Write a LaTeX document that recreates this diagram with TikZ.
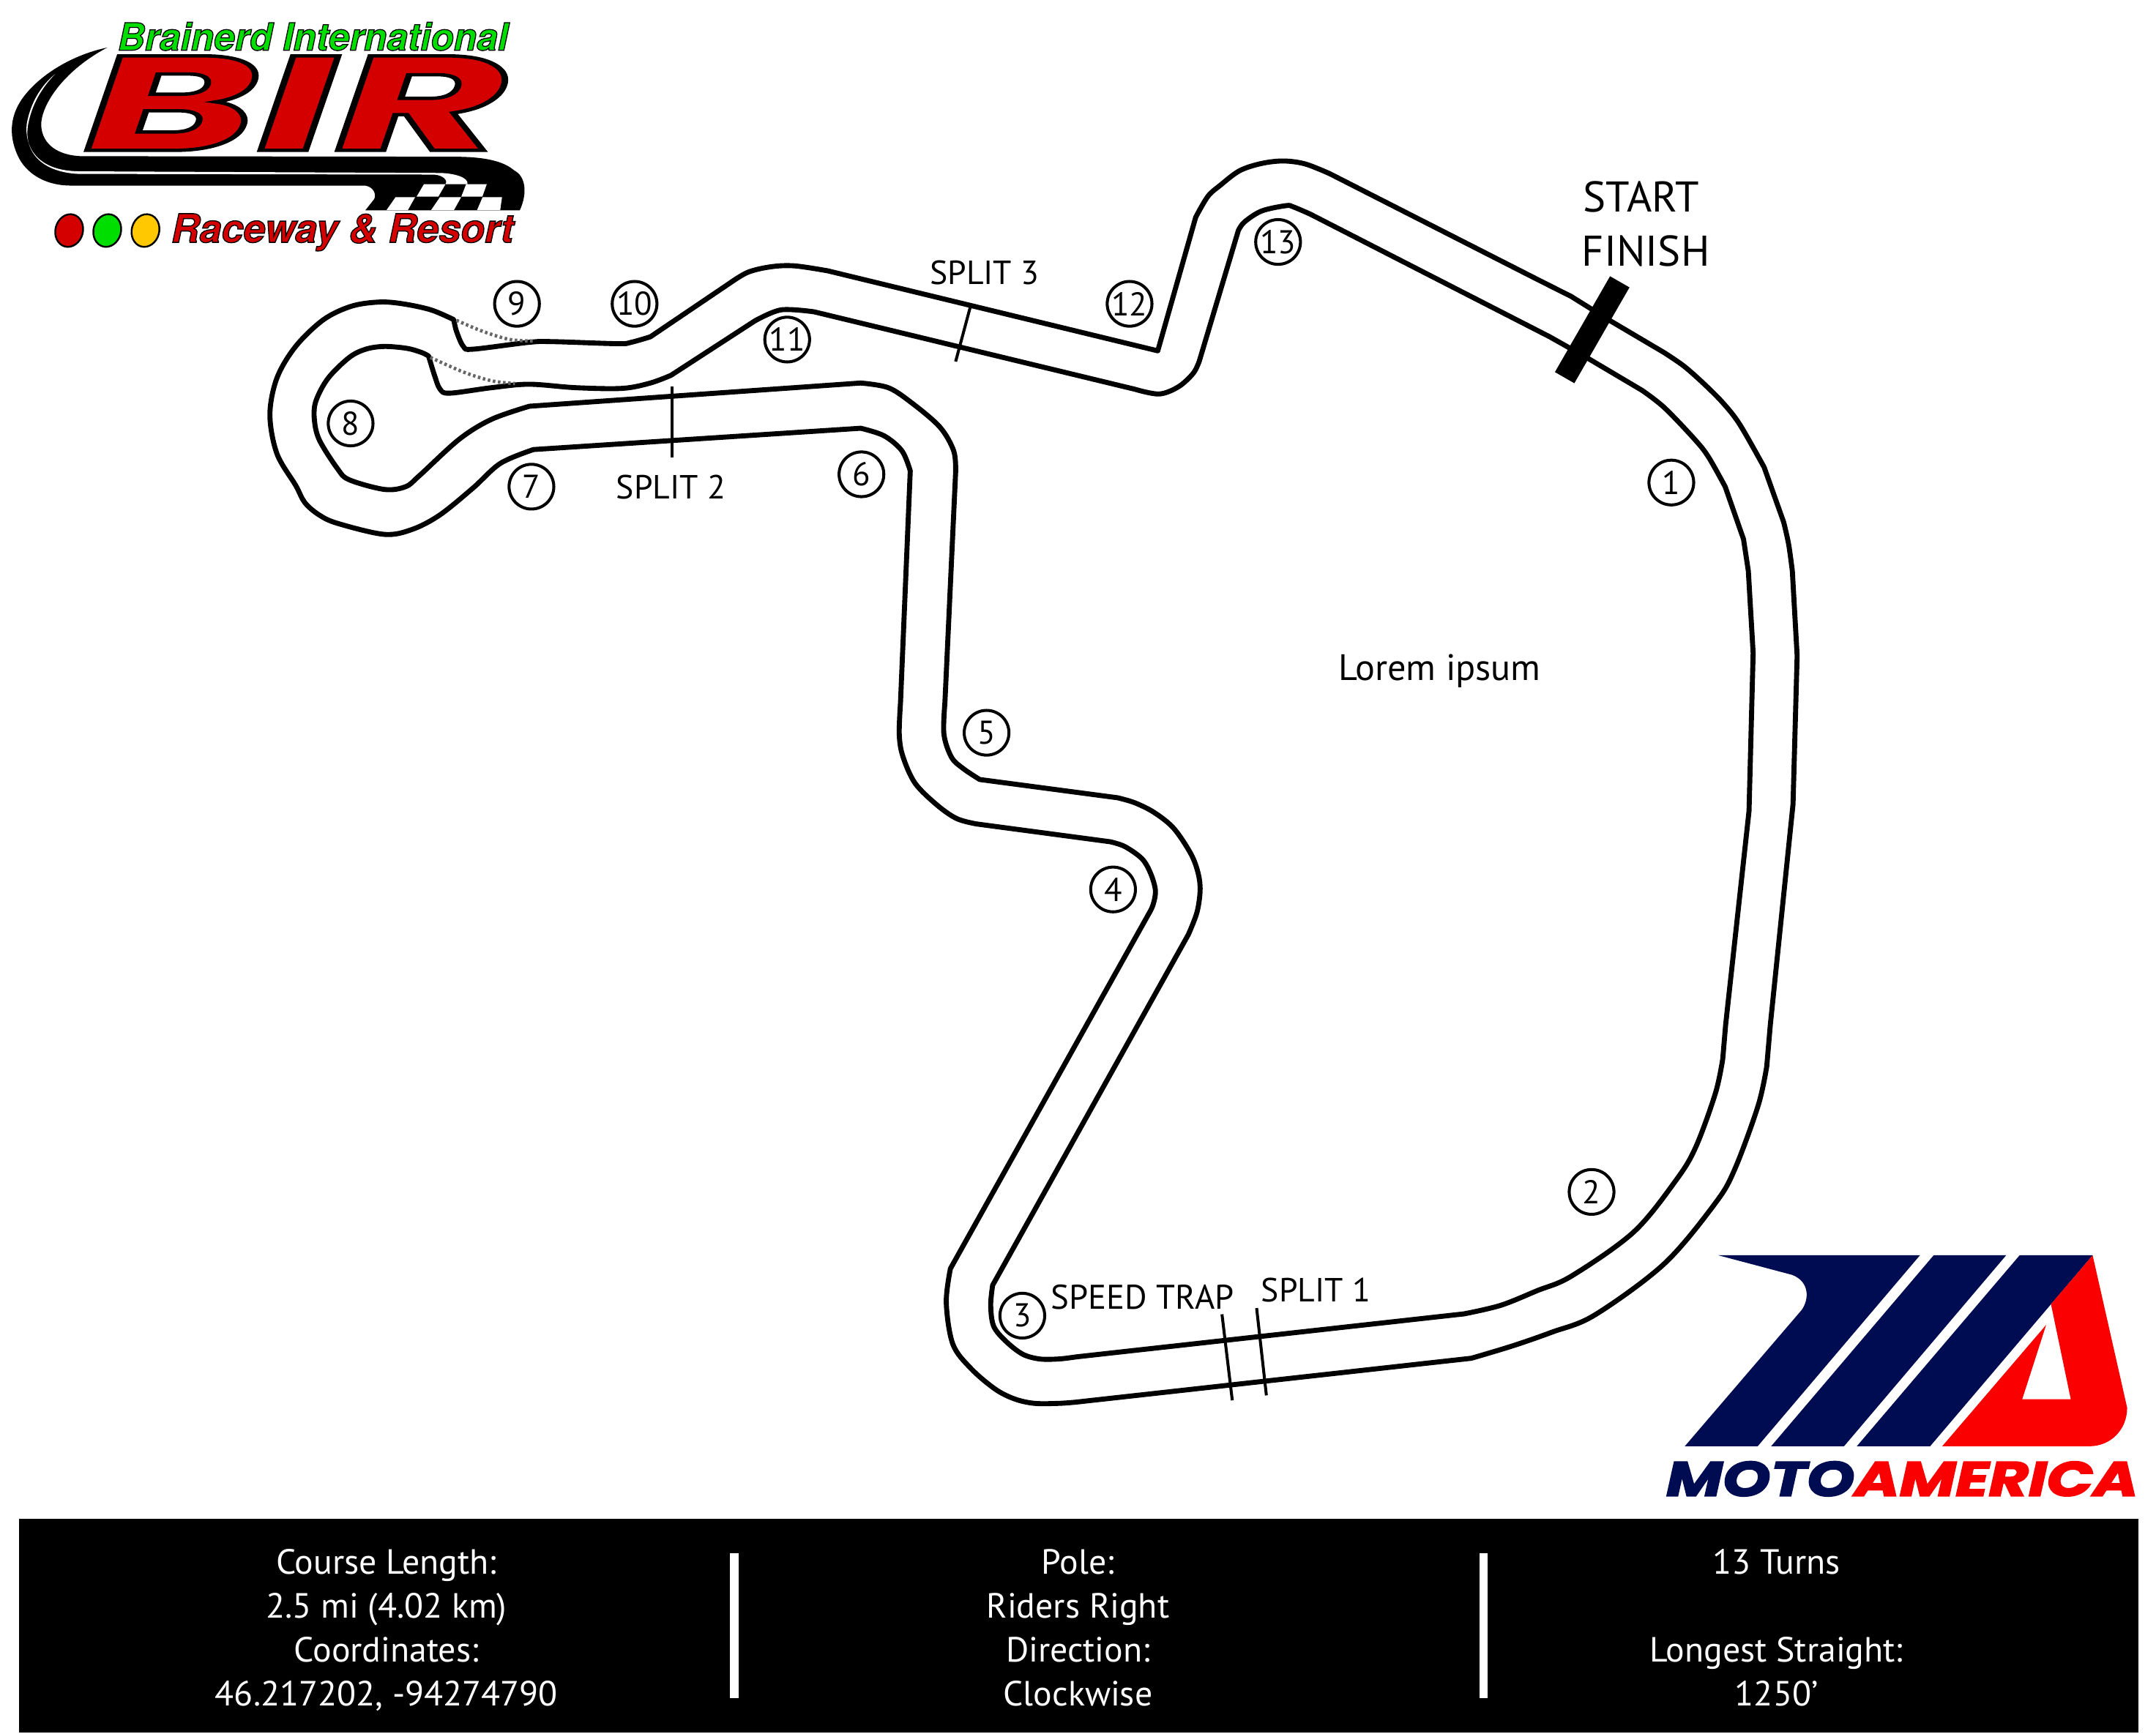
\documentclass[tikz,border=0pt]{standalone}
\usepackage{fontspec}
\usepackage{graphicx}
\setmainfont{PT Sans}
\newfontfamily\logofont[BoldItalicFeatures={FakeBold=2.5}]{TeX Gyre Heros}
\newfontfamily\heavyfont[BoldItalicFeatures={FakeBold=2.5}]{Poppins}
\newcommand{\outlined}[2]{\textcolor{#1}{\special{pdf:code 0 0 0 RG}#2}}
\definecolor{navy}{HTML}{000C52}
\definecolor{mared}{HTML}{FB0000}
\definecolor{birred}{HTML}{D40000}
\definecolor{birgreen}{HTML}{00DE00}
\definecolor{biryellow}{HTML}{FFC800}
\tikzset{
  track/.style={line width=1.95pt,line join=round,black},
  curve/.style={smooth,tension=.55},
  turn/.style={circle,draw=black,line width=1.15pt,minimum size=17.4pt,inner sep=0pt,font=\fontsize{12.8}{14}\selectfont},
  label/.style={inner sep=0pt,anchor=base,font=\fontsize{13}{15}\selectfont},
  biglabel/.style={inner sep=0pt,anchor=base,font=\fontsize{16.7}{19}\selectfont},
  tick/.style={line width=1.15pt,black},
  info/.style={inner sep=0pt,anchor=base,white,font=\fontsize{13.6}{15}\selectfont},
  dotline/.style={line width=1.3pt,draw=black!60,dash pattern=on 1pt off 1pt},
}
\begin{document}
\begin{tikzpicture}[x=0.018782cm,y=-0.018782cm]
\useasboundingbox (0,0) rectangle (1568,1261.3);
% track, outer boundary
\draw[track]
 plot[curve] coordinates {(782.6,1019.9)(770.2,1020.8)(752.4,1020.8)(738.2,1017.7)(724,1010.6)(706.3,995.6)(693,977.8)(688.2,947.6)(691.2,922.8)}
 -- plot[curve] coordinates {(835,665.5)(838.5,658.4)(840.3,647.8)(836.8,635.3)(830.6,624.7)(818.1,615.8)(807.5,612.3)}
 -- plot[curve] coordinates {(709.9,599.3)(695.7,595.4)(681.5,585.6)(665.5,569.7)(656.6,550.1)(654,534.2)(654.9,511.1)}
 -- plot[curve] coordinates {(662,342.5)(656,328)(643,317)(626,311.5)}
 -- plot[curve] coordinates {(388,327)(364,337)(344,355)(320,374.5)(300,385)(279.5,388.7)(245.5,380.7)(232,374.5)(221.7,365.6)(215,353)(201.4,330)(196.3,301.7)(201.4,275)(215,252)(235.3,232.5)(255.7,222.7)(276,219.7)(293,221)(313.4,225.4)(330,232.5)}
 -- plot[curve] coordinates {(330,232.5)(332,241)(337,252)(344,254)(384.7,249)(401.7,248.5)(449,250)(459,249)(473,245)}
 -- plot[curve] coordinates {(530.7,206)(544,198)(561,194)(578,193.4)(602,197)}
 -- (842,255.2)
 -- plot[curve] coordinates {(869.6,158)(878.4,142.9)(887.3,134.9)(901.5,124.2)(917.5,118.9)(933.5,117.1)(949.4,119.3)(967.2,126.4)}
 -- (1118,203.2) -- (1142.8,215.7) -- (1171.2,233.4)
 -- plot[curve] coordinates {(1210.3,256.5)(1224.5,266.2)(1238.7,278.7)(1252.9,292.9)(1265.3,308.8)(1283,339.9)}
 -- plot[curve] coordinates {(1297.2,379.8)(1300.8,395.8)(1303.5,415.3)}
 -- (1307,477) -- (1304,585) -- (1287.5,745.4)
 -- plot[curve] coordinates {(1284.9,775.6)(1278.7,804)(1261.8,850.1)(1247.6,875)(1210.3,919.3)(1159.7,956.6)(1128.7,969)(1100,979)(1070,988)}
 -- cycle;
% track, inner boundary
\draw[track]
 plot[curve] coordinates {(782.6,987)(770.2,988.5)(756,988.5)(743.5,984.9)(731.1,975.2)(722.6,964.5)(720.5,949.4)(721.9,934.9)}
 -- plot[curve] coordinates {(864.3,679.7)(870.5,663.7)(872.8,647.8)(871.4,635.3)(866.1,621.1)(853.6,602.5)(839.4,591)(825.2,583.9)(812.8,580.3)}
 -- plot[curve] coordinates {(712.5,567)(701,559.4)(692.1,551)(686.5,534.2)(687.2,511.1)}
 -- plot[curve] coordinates {(695,343.4)(693.6,328)(683.5,310.6)(663,293)(646,282)(626,278.6)}
 -- plot[curve] coordinates {(385,295.5)(357.5,305)(334,319.5)(305,346)(295,354)(279.5,356)(254,349)(245.5,341)(232,319.5)(228.5,303.5)(230,291)(238.7,275)(254,260)(266,254)(279.5,252)(296,253.4)(306.6,256.4)(311.7,259)}
 -- plot[curve] coordinates {(311.7,259)(316,273)(320,283)(327,286)(357.5,282)(384.7,279.5)(418.6,282)(452.6,282.5)(473,278.6)(488,273)}
 -- plot[curve] coordinates {(549,233.4)(568,225.4)(592,226.8)}
 -- plot[curve] coordinates {(825.2,283.1)(842.9,286.6)(857.1,281.3)(867.8,271.5)(872.2,262.7)}
 -- plot[curve] coordinates {(900.6,167.7)(905,161.5)(917.5,153.5)(935.2,149.6)(940.6,150.5)(953,155.8)}
 -- (1126.9,244.9) -- (1155.3,260.9)
 -- plot[curve] coordinates {(1194.3,284)(1210.3,296.4)(1231.6,318.6)(1242.2,331.9)(1254.7,354.1)}
 -- plot[curve] coordinates {(1268,392.2)(1271.5,415.3)}
 -- (1275,475) -- (1272,590) -- (1255,745.4)
 -- plot[curve] coordinates {(1252.9,770.2)(1247.6,795.1)(1233.4,834.1)(1219.2,858.1)(1188.1,896.2)(1142.9,928.2)(1118,938.8)(1091.4,949.5)(1064.8,955.7)}
 -- cycle;
% dotted shortcuts
\draw[dotline] plot[curve] coordinates {(332,233)(351,241)(371,247)(388,248)};
\draw[dotline] plot[curve] coordinates {(313,260)(337,270.6)(357.5,277)(374.5,279)};
% start line
\coordinate (sfa) at (1178,205);
\coordinate (sfb) at (1137.9,274.7);
\draw[line width=8.7pt,black] (sfa) -- (sfb);
\node[biglabel] (start) at (1193.5,154) {START};
\node[biglabel] (finish) at (1197,193.5) {FINISH};
% splits
\coordinate (s3a) at (706,222); \coordinate (s3b) at (695,263);
\coordinate (s2a) at (489,281); \coordinate (s2b) at (489,333);
\coordinate (s1a) at (913.9,951.5); \coordinate (s1b) at (921,1015);
\coordinate (sta) at (888.7,956); \coordinate (stb) at (896.2,1018.6);
\draw[tick] (s3a) -- (s3b);
\draw[tick] (s2a) -- (s2b);
\draw[tick] (s1a) -- (s1b);
\draw[tick] (sta) -- (stb);
\node[label] (split3) at (716,207) {SPLIT 3};
\node[label] (split2) at (488,363) {SPLIT 2};
\node[label] (split1) at (957,946.8) {SPLIT 1};
\node[label,font=\fontsize{13.3}{15}\selectfont] (trap) at (831,952.1) {SPEED TRAP};
\node[label,font=\fontsize{14.3}{16}\selectfont] (lorem) at (1047,495) {Lorem ipsum};
% turns
\node[turn] (t1) at (1215.5,351) {1};
\node[turn] (t2) at (1157.5,867) {2};
\node[turn] (t3) at (743.5,957) {3};
\node[turn] (t4) at (809.5,647) {4};
\node[turn] (t5) at (717.5,533) {5};
\node[turn] (t6) at (626.5,345) {6};
\node[turn] (t7) at (386.5,354) {7};
\node[turn] (t8) at (255,308) {8};
\node[turn] (t9) at (376,221) {9};
\node[turn] (t10) at (461.5,221) {10};
\node[turn] (t11) at (572.5,247) {11};
\node[turn] (t12) at (821.5,221) {12};
\node[turn] (t13) at (929.5,176) {13};
% info bar
\fill[black] (14,1105) rectangle (1555,1260);
\fill[white] (531,1130) rectangle (537,1235);
\fill[white] (1076,1130) rectangle (1082,1235);
\node[info] at (281,1145) {Course Length:};
\node[info] at (281,1177) {2.5 mi (4.02 km)};
\node[info] at (281,1209) {Coordinates:};
\node[info] at (281,1241) {46.217202, -94274790};
\node[info] at (784,1145) {Pole:};
\node[info] at (784,1177) {Riders Right};
\node[info] at (784,1209) {Direction:};
\node[info] at (784,1241) {Clockwise};
\node[info] at (1292,1145) {13 Turns};
\node[info] at (1292,1209) {Longest Straight:};
\node[info] at (1292,1241) {1250’};
% MotoAmerica logo
\fill[navy] (1249.7,913.1) -- (1396.3,913.1) -- (1278.3,1052) -- (1225.3,1052) -- (1310.2,953) .. controls (1316,945) and (1316,932) .. (1303.2,927.3) -- cycle;
\fill[navy] (1406.3,913.1) -- (1459,913.1) -- (1341.1,1052) -- (1288.1,1052) -- cycle;
\fill[navy] (1468.8,913.1) -- (1521.9,913.1) -- (1403.7,1052) -- (1350.4,1052) -- cycle;
\fill[mared] (1521.9,913.1) -- (1547,1024) .. controls (1547,1040) and (1535,1052) .. (1519.5,1052) -- (1412.5,1052) -- (1488.1,963.7) -- (1470.7,1017.8) -- (1506,1017.8) -- (1491.6,948.6) -- cycle;
\node[inner sep=0pt,anchor=center] (motoamerica) at (1383.5,1075.7) {\resizebox{344.5\dimexpr 0.5324pt\relax}{25.3\dimexpr 0.5324pt\relax}{\heavyfont\bfseries\itshape\textcolor{navy}{MOTO}\textcolor{mared}{AMERICA}}};
% BIR logo swoosh
\fill[black] (78,34.6) .. controls (52,40) and (28,55) .. (16,72) .. controls (7,85) and (6,100) .. (14,115.4) .. controls (21,128) and (35,135) .. (51.6,135) -- (265.7,135) .. controls (272,136) and (274,142) .. (272,145) -- (265.7,153) -- (378,153) .. controls (384,140) and (382,128) .. (374,124) .. controls (368,119) and (358,114) .. (330,114) -- (59,113.6) .. controls (42,113) and (31,105) .. (30,92) .. controls (29,78) and (45,52) .. (78,34.6) -- cycle;
\fill[white] (40,54) .. controls (30,62) and (22,75) .. (19.4,90.5) .. controls (18,105) and (25,124) .. (56.8,124.6) -- (320,125.8) .. controls (330,126) and (341,129) .. (340,134) -- (324,134) .. controls (326,131) and (322,127.5) .. (316,127) -- (56.8,126.5) .. controls (28,125) and (16,108) .. (21,88) .. controls (24,74) and (32,62) .. (40,54) -- cycle;
\fill[white] (308.3,134) -- (324,134) -- (318.8,143) -- (303,143) -- cycle;
\fill[white] (339,134) -- (354,134) -- (350.8,143) -- (335.5,143) -- cycle;
\fill[white] (287.7,143.4) -- (301.9,143.4) -- (296.7,152.7) -- (281.2,152.7) -- cycle;
\fill[white] (320,143.4) -- (335.4,143.4) -- (330.2,152.7) -- (313.6,152.7) -- cycle;
\fill[white] (351,143.4) -- (365.1,143.4) -- (363.8,152.7) -- (347,152.7) -- cycle;
% BIR logo text
\node[inner sep=0pt] (bir) at (215,75) {\resizebox{308\dimexpr 0.5324pt\relax}{69\dimexpr 0.5324pt\relax}{\heavyfont\bfseries\itshape\outlined{birred}{BIR}}};
\node[inner sep=0pt] (brainerd) at (227.5,26.5) {\resizebox{285\dimexpr 0.5324pt\relax}{20.5\dimexpr 0.5324pt\relax}{\fontsize{16}{18}\logofont\bfseries\itshape\outlined{birgreen}{Brainerd International}}};
\node[inner sep=0pt] (raceway) at (249,169) {\resizebox{250\dimexpr 0.5324pt\relax}{!}{\fontsize{16}{18}\logofont\bfseries\itshape\outlined{birred}{Raceway \& Resort}}};
% lights
\draw[black,line width=.7pt,fill=birred,rotate around={-15:(50.3,167.7)}] (50.3,167.7) ellipse (10 and 12);
\draw[black,line width=.7pt,fill=birgreen,rotate around={-15:(78,167.7)}] (78,167.7) ellipse (10 and 12);
\draw[black,line width=.7pt,fill=biryellow,rotate around={-15:(105.8,167.7)}] (105.8,167.7) ellipse (10 and 12);
\end{tikzpicture}
\end{document}
